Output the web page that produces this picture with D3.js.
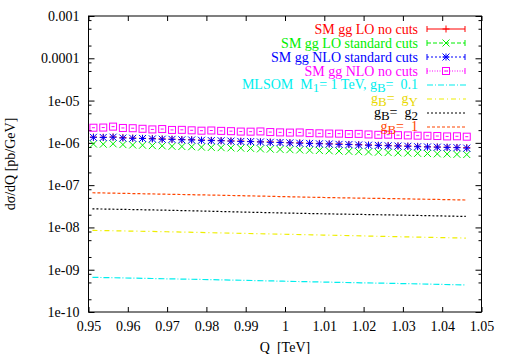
<!DOCTYPE html>
<html>
<head>
<meta charset="utf-8">
<script src="https://cdn.jsdelivr.net/npm/d3@7"></script>
<style>
  body { margin: 0; background: #fff; }
  svg text { font-family: "Liberation Serif", "Times New Roman", serif; font-size: 14px; }
</style>
</head>
<body>
<div id="chart"></div>
<script>
// D3 Script

const WIDTH = 506;
const HEIGHT = 354;
const MARGIN = { TOP: 16, BOTTOM: 42, LEFT: 88.5, RIGHT: 24.5 };

const width = WIDTH - MARGIN.LEFT - MARGIN.RIGHT;
const height = HEIGHT - MARGIN.TOP - MARGIN.BOTTOM;

// data (units pb/GeV)
const Q_POINTS = d3.range(39).map(i => 0.95125 + 0.0025 * i);
const loNoCuts = [1.37,1.36,1.38,1.33,1.30,1.28,1.27,1.24,1.22,1.20,1.19,1.16,1.15,1.13,1.11,1.10,1.08,1.06,1.05,1.03,1.01,1.00,0.98,0.97,0.95,0.94,0.92,0.91,0.89,0.88,0.87,0.85,0.84,0.83,0.81,0.80,0.79,0.78,0.77];
const loStdCuts = [0.94,0.93,0.95,0.91,0.89,0.88,0.86,0.85,0.83,0.82,0.81,0.79,0.78,0.77,0.76,0.75,0.74,0.72,0.71,0.70,0.69,0.68,0.67,0.66,0.65,0.64,0.63,0.62,0.61,0.60,0.59,0.58,0.575,0.565,0.56,0.55,0.545,0.535,0.53];
const nloStdCuts = [1.35,1.34,1.36,1.30,1.28,1.27,1.24,1.22,1.21,1.18,1.17,1.15,1.13,1.12,1.10,1.08,1.07,1.05,1.03,1.02,1.00,0.98,0.97,0.95,0.94,0.92,0.91,0.89,0.88,0.87,0.85,0.84,0.83,0.81,0.80,0.79,0.78,0.77,0.75];
const nloNoCuts = [2.28,2.30,2.42,2.25,2.22,2.15,2.08,2.12,2.02,2.03,1.98,1.94,1.96,1.92,1.89,1.85,1.84,1.86,1.80,1.77,1.75,1.76,1.70,1.68,1.66,1.65,1.62,1.63,1.58,1.55,1.56,1.52,1.50,1.48,1.47,1.45,1.42,1.43,1.40];

const Q_LINES = [0.951, 0.97, 0.99, 1.01, 1.03, 1.046];
const mlsom01 = [6.6e-10, 6.1e-10, 5.6e-10, 5.1e-10, 4.7e-10, 4.35e-10];
const mlsomGY = [8.5e-9, 7.9e-9, 7.2e-9, 6.6e-9, 6.0e-9, 5.6e-9];
const mlsomG2 = [2.75e-8, 2.55e-8, 2.3e-8, 2.1e-8, 1.95e-8, 1.82e-8];
const mlsom1 = [6.6e-8, 6.1e-8, 5.6e-8, 5.1e-8, 4.75e-8, 4.45e-8];

const X_TICKS = d3.range(11).map(i => 0.95 + 0.01 * i);
const Y_TICKS = [1e-3, 1e-4, 1e-5, 1e-6, 1e-7, 1e-8, 1e-9, 1e-10];
const Y_TICK_LABELS = ['0.001', '0.0001', '1e-05', '1e-06', '1e-07', '1e-08', '1e-09', '1e-10'];

const pointSeries = [
  { label: 'SM gg LO no cuts', values: loNoCuts, color: '#ff0000', marker: 'plus', dash: null },
  { label: 'SM gg LO standard cuts', values: loStdCuts, color: '#00ee00', marker: 'cross', dash: '4,2' },
  { label: 'SM gg NLO standard cuts', values: nloStdCuts, color: '#0000ff', marker: 'star', dash: '2,2' },
  { label: 'SM gg NLO no cuts', values: nloNoCuts, color: '#ff00ff', marker: 'box', dash: '1,1.5' }
];
const lineSeries = [
  { values: mlsom01, color: '#00eeee', dash: '6,2,1,2' },
  { values: mlsomGY, color: '#eeee00', dash: '5,3,1,3' },
  { values: mlsomG2, color: '#000000', dash: '2,2' },
  { values: mlsom1, color: '#ff4500', dash: '3,2' }
];

const svg = d3.select('#chart')
  .append('svg')
    .attr('width', WIDTH)
    .attr('height', HEIGHT);

const container = svg.append('g')
  .attr('transform', `translate(${MARGIN.LEFT}, ${MARGIN.TOP})`);

const x = d3.scaleLinear().domain([0.95, 1.05]).range([0, width]);
const y = d3.scaleLog().domain([1e-10, 1e-3]).range([height, 0]);

// ticks
const minorY = [];
for (let e = -10; e < -3; e++) {
  [2, 5, 8].forEach(m => minorY.push(m * Math.pow(10, e)));
}

container.append('g')
  .attr('transform', `translate(0, ${height})`)
  .call(d3.axisBottom(x).tickValues(X_TICKS).tickSizeInner(-5).tickSizeOuter(0)
        .tickPadding(9).tickFormat(d => +d.toFixed(2)));
container.append('g')
  .call(d3.axisTop(x).tickValues(X_TICKS).tickSizeInner(-5).tickSizeOuter(0).tickFormat(''));
container.append('g')
  .call(d3.axisLeft(y).tickValues(Y_TICKS).tickSizeInner(-6).tickSizeOuter(0)
        .tickPadding(9).tickFormat((d, i) => Y_TICK_LABELS[i]));
container.append('g')
  .attr('transform', `translate(${width}, 0)`)
  .call(d3.axisRight(y).tickValues(Y_TICKS).tickSizeInner(-6).tickSizeOuter(0).tickFormat(''));
container.append('g')
  .call(d3.axisLeft(y).tickValues(minorY).tickSizeInner(-3).tickSizeOuter(0).tickFormat(''));
container.append('g')
  .attr('transform', `translate(${width}, 0)`)
  .call(d3.axisRight(y).tickValues(minorY).tickSizeInner(-3).tickSizeOuter(0).tickFormat(''));

container.selectAll('.domain').remove();
container.selectAll('.tick line').attr('stroke', '#000').attr('stroke-width', 1);
container.selectAll('.tick text')
  .attr('fill', '#000')
  .style('font-family', '"Liberation Serif", serif')
  .style('font-size', '14px');

container.append('rect')
  .attr('x', 0).attr('y', 0)
  .attr('width', width).attr('height', height)
  .attr('fill', 'none')
  .attr('stroke', '#000')
  .attr('stroke-width', 1);

// axis titles
svg.append('text')
  .attr('transform', `translate(15, ${MARGIN.TOP + height / 2}) rotate(-90)`)
  .attr('text-anchor', 'middle')
  .text('dσ/dQ [pb/GeV]');

svg.append('text')
  .attr('x', MARGIN.LEFT + width / 2)
  .attr('y', 352)
  .attr('text-anchor', 'middle')
  .attr('xml:space', 'preserve')
  .text('Q  [TeV]');

// markers
function drawMarker(g, type, color) {
  const s = 3.5;
  if (type === 'plus') {
    g.append('path').attr('d', `M${-s},0H${s}M0,${-s}V${s}`);
  } else if (type === 'cross') {
    g.append('path').attr('d', `M${-s},${-s}L${s},${s}M${-s},${s}L${s},${-s}`);
  } else if (type === 'star') {
    g.append('path').attr('d', `M${-s},0H${s}M0,${-s}V${s}M${-s},${-s}L${s},${s}M${-s},${s}L${s},${-s}`);
  } else if (type === 'box') {
    g.append('rect').attr('x', -s).attr('y', -s).attr('width', 2 * s).attr('height', 2 * s).attr('fill', 'none');
    g.append('path').attr('d', `M-1.5,0H1.5`);
  }
  g.attr('stroke', color).attr('stroke-width', 1).attr('fill', 'none');
}

const line = d3.line()
  .x(d => x(d[0]))
  .y(d => y(d[1]))
  .curve(d3.curveMonotoneX);

lineSeries.forEach(s => {
  container.append('path')
    .datum(Q_LINES.map((q, i) => [q, s.values[i]]))
    .attr('d', line)
    .attr('fill', 'none')
    .attr('stroke', s.color)
    .attr('stroke-width', 1.2)
    .attr('stroke-dasharray', s.dash);
});

// draw magenta, green, red, then blue so blue sits on top like the reference
[3, 1, 0, 2].forEach(k => {
  const s = pointSeries[k];
  container.selectAll(`.pt${k}`)
    .data(s.values)
    .enter()
    .append('g')
    .attr('class', `pt${k}`)
    .attr('transform', (d, i) => `translate(${x(Q_POINTS[i])}, ${y(d * 1e-6)})`)
    .each(function () { drawMarker(d3.select(this), s.marker, s.color); });
});

// legend
const LEG_TEXT_X = 418;
const LEG_X0 = 427;
const LEG_X1 = 465;
const legRow = i => 29 + 14 * i;

const legend = svg.append('g');

pointSeries.forEach((s, i) => {
  const yy = legRow(i);
  legend.append('text')
    .attr('x', LEG_TEXT_X).attr('y', yy + 5)
    .attr('text-anchor', 'end')
    .attr('fill', s.color)
    .text(s.label);
  legend.append('path')
    .attr('d', `M${LEG_X0},${yy}H${LEG_X1}`)
    .attr('stroke', s.color)
    .attr('stroke-dasharray', s.dash)
    .attr('fill', 'none');
  legend.append('path')
    .attr('d', `M${LEG_X0},${yy - 3}V${yy + 3}M${LEG_X1},${yy - 3}V${yy + 3}`)
    .attr('stroke', s.color)
    .attr('fill', 'none');
  const mk = legend.append('g').attr('transform', `translate(${(LEG_X0 + LEG_X1) / 2}, ${yy})`);
  drawMarker(mk, s.marker, s.color);
});

const lineLabels = [
  [['MLSOM  M', 0], ['1', 1], ['= 1 TeV, g', 0], ['B', 1], ['=  0.1', 0]],
  [['g', 0], ['B', 1], ['=  g', 0], ['Y', 1]],
  [['g', 0], ['B', 1], ['=  g', 0], ['2', 1]],
  [['g', 0], ['B', 1], ['=  1', 0]]
];
const lineTextColors = ['#00eeee', '#e8d800', '#000000', '#ff4500'];

lineSeries.forEach((s, i) => {
  const yy = legRow(i + 4);
  const t = legend.append('text')
    .attr('x', LEG_TEXT_X).attr('y', yy + 4)
    .attr('text-anchor', 'end')
    .attr('xml:space', 'preserve')
    .attr('fill', lineTextColors[i]);
  let shifted = false;
  lineLabels[i].forEach(([txt, sub]) => {
    const ts = t.append('tspan').text(txt);
    if (sub) ts.style('font-size', '13px');
    if (sub && !shifted) { ts.attr('dy', 2.5); shifted = true; }
    else if (!sub && shifted) { ts.attr('dy', -2.5); shifted = false; }
  });
  legend.append('path')
    .attr('d', `M${LEG_X0},${yy}H${LEG_X1 + 1}`)
    .attr('stroke', s.color)
    .attr('stroke-width', 1.2)
    .attr('stroke-dasharray', s.dash)
    .attr('fill', 'none');
});
</script>
</body>
</html>
